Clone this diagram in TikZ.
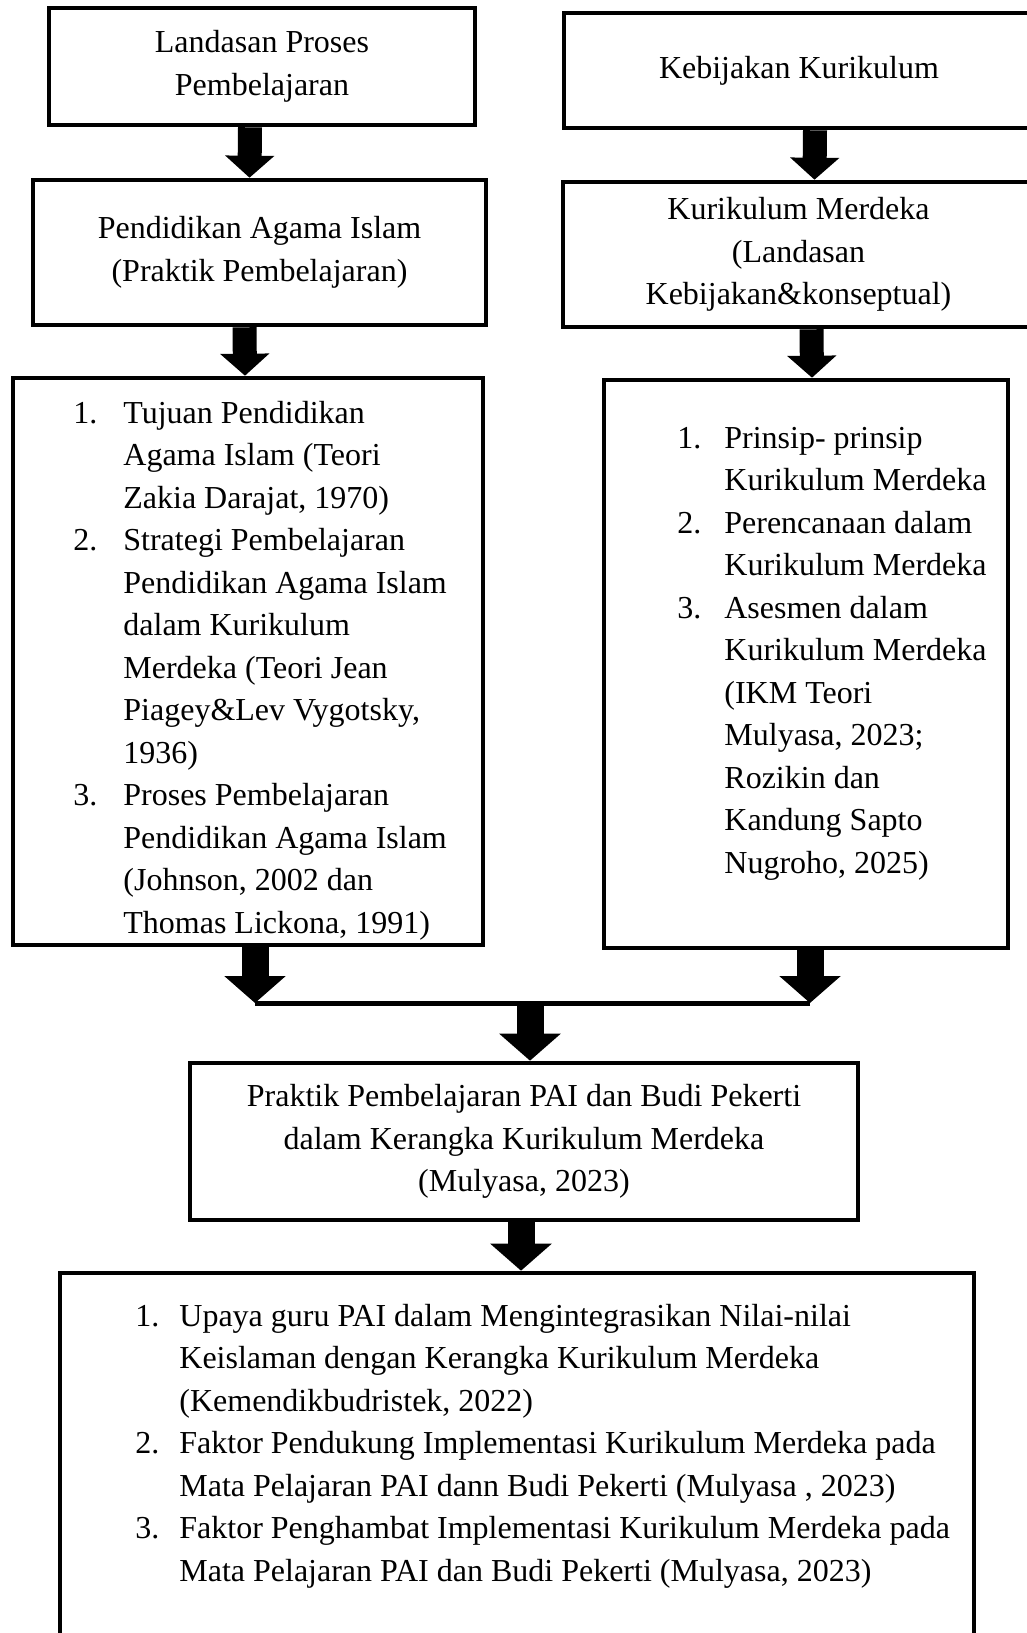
\documentclass[tikz,border=0pt]{standalone}
\usepackage{fontspec}
\setmainfont{Liberation Serif}
\usetikzlibrary{arrows.meta}

\begin{document}
\begin{tikzpicture}[x=0.5pt,y=0.5pt,
    txt/.style={font=\fontsize{16}{21.25}\selectfont},
    box/.style={txt,draw,line width=2.3pt,align=center,inner sep=0pt},
    blk/.style={line width=12pt,-{Triangle[length=11pt,width=24pt]}},
    bigblk/.style={line width=13.5pt,-{Triangle[length=13.5pt,width=30pt]}}]
  \useasboundingbox (0,0) rectangle (1027,-1633);

  \node[box,minimum width=213pt,minimum height=58.5pt] (lp) at (262,-66.5)
    {Landasan Proses\\Pembelajaran};
  \node[box,minimum width=235pt,minimum height=57.5pt] (kb) at (799,-70.5)
    {Kebijakan Kurikulum};
  \node[box,minimum width=226.5pt,minimum height=72.5pt] (pai) at (259.5,-252.5)
    {Pendidikan Agama Islam\\(Praktik Pembelajaran)};
  \node[box,minimum width=235.5pt,minimum height=72.5pt] (km) at (798.5,-254.5)
    {Kurikulum Merdeka\\(Landasan\\Kebijakan\&konseptual)};

  \node[box,minimum width=235pt,minimum height=283.5pt] (lst1) at (248,-661.5) {};
  \node[txt,anchor=north west,inner sep=0pt] (lst1t) at (73,-393) {%
    \begin{tabular}{@{}p{25pt}@{}l@{}}
      1. & Tujuan Pendidikan\\
         & Agama Islam (Teori\\
         & Zakia Darajat, 1970)\\
      2. & Strategi Pembelajaran\\
         & Pendidikan Agama Islam\\
         & dalam Kurikulum\\
         & Merdeka (Teori Jean\\
         & Piagey\&Lev Vygotsky,\\
         & 1936)\\
      3. & Proses Pembelajaran\\
         & Pendidikan Agama Islam\\
         & (Johnson, 2002 dan\\
         & Thomas Lickona, 1991)
    \end{tabular}};

  \node[box,minimum width=202pt,minimum height=284pt] (lst2) at (806,-664) {};
  \node[txt,anchor=north west,inner sep=0pt] (lst2t) at (677,-418) {%
    \begin{tabular}{@{}p{23.5pt}@{}l@{}}
      1. & Prinsip- prinsip\\
         & Kurikulum Merdeka\\
      2. & Perencanaan dalam\\
         & Kurikulum Merdeka\\
      3. & Asesmen dalam\\
         & Kurikulum Merdeka\\
         & (IKM Teori\\
         & Mulyasa, 2023;\\
         & Rozikin dan\\
         & Kandung Sapto\\
         & Nugroho, 2025)
    \end{tabular}};

  \node[box,minimum width=334pt,minimum height=78.5pt] (mid) at (524,-1141.5)
    {Praktik Pembelajaran PAI dan Budi Pekerti\\dalam Kerangka Kurikulum Merdeka\\(Mulyasa, 2023)};

  \node[box,minimum width=457pt,minimum height=213.5pt] (bot) at (517,-1486.5) {};
  \node[txt,anchor=north west,inner sep=0pt] (bott) at (135,-1296) {%
    \begin{tabular}{@{}p{22pt}@{}l@{}}
      1. & Upaya guru PAI dalam Mengintegrasikan Nilai-nilai\\
         & Keislaman dengan Kerangka Kurikulum Merdeka\\
         & (Kemendikbudristek, 2022)\\
      2. & Faktor Pendukung Implementasi Kurikulum Merdeka pada\\
         & Mata Pelajaran PAI dann Budi Pekerti (Mulyasa , 2023)\\
      3. & Faktor Penghambat Implementasi Kurikulum Merdeka pada\\
         & Mata Pelajaran PAI dan Budi Pekerti (Mulyasa, 2023)
    \end{tabular}};

  \coordinate (mL) at (255,-1003);
  \coordinate (mR) at (810,-1003);
  \coordinate (mC) at (530,-1003);

  \draw[blk] ([xshift=-6pt]lp.south) -- ([xshift=-5pt]pai.north);
  \draw[blk] ([xshift=-7.5pt]pai.south) -- ([xshift=-1.5pt]lst1.north);
  \draw[blk] ([xshift=8pt]kb.south) -- ([xshift=8pt]km.north);
  \draw[blk] ([xshift=6.5pt]km.south) -- ([xshift=3pt]lst2.north);

  \draw[bigblk] (lst1.south -| mL) -- (mL);
  \draw[bigblk] (lst2.south -| mR) -- (mR);
  \draw[line width=2.5pt] (mL) -- (mR);
  \draw[bigblk] (mC) -- (mid.north -| mC);
  \draw[bigblk] ([xshift=-1.5pt]mid.south) -- ([xshift=-1.5pt]mid.south |- bot.north);
\end{tikzpicture}
\end{document}
